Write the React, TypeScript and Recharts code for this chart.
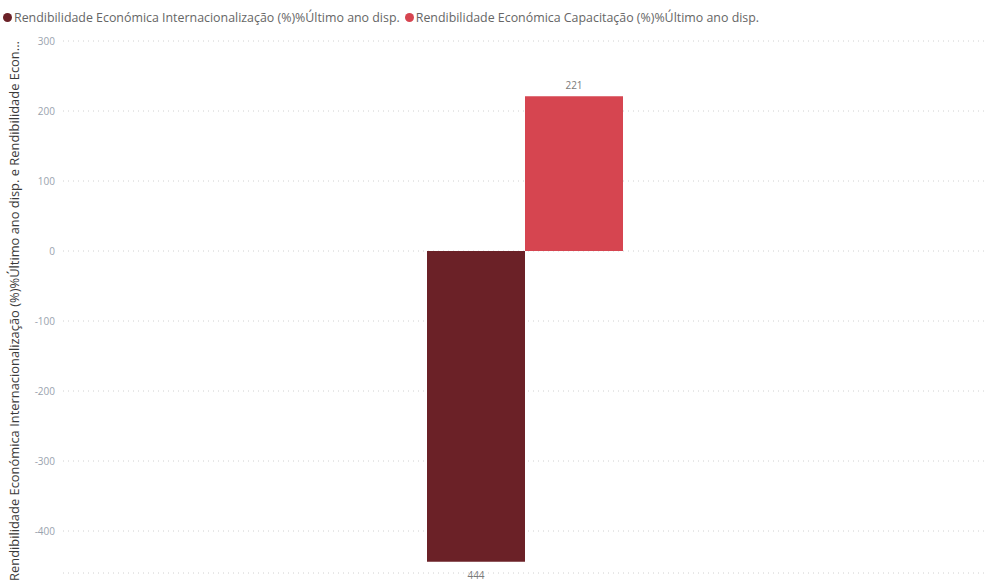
import { Bar, BarChart, CartesianGrid, LabelList, XAxis, YAxis } from "recharts";

const categories = ["Último ano disp."];
const internacionalizacao = [-444];
const capacitacao = [221];
const yTicks = [-400, -300, -200, -100, 0, 100, 200, 300];

const seriesNames = [
  "Rendibilidade Económica Internacionalização (%)%Último ano disp.",
  "Rendibilidade Económica Capacitação (%)%Último ano disp.",
];
const seriesColors = ["#6B2127", "#D64550"];
const axisTitle =
  "Rendibilidade Económica Internacionalização (%)%Último ano disp. e Rendibilidade Econ...";

const data = categories.map((c, i) => ({
  name: c,
  inter: internacionalizacao[i],
  capa: capacitacao[i],
}));

const FONT = "'Segoe UI', 'Open Sans', 'DejaVu Sans', sans-serif";

// value labels sit above positive bars and below negative ones
// eslint-disable-next-line @typescript-eslint/no-explicit-any
const ValueLabel = (props: any) => {
  const { x, y, width, height, value } = props;
  const top = Math.min(y, y + height);
  const bottom = Math.max(y, y + height);
  const cx = x + width / 2;
  const ty = value >= 0 ? top - 7 : bottom + 17;
  return (
    <text
      x={cx}
      y={ty}
      textAnchor="middle"
      fill="#7a7a7a"
      fontSize={10}
      fontFamily={FONT}
    >
      {Math.abs(value)}
    </text>
  );
};

// eslint-disable-next-line @typescript-eslint/no-explicit-any
const AxisTitle = (props: any) => {
  const { viewBox } = props;
  const cy = viewBox.y + viewBox.height / 2 + 4;
  return (
    <text
      x={14}
      y={cy}
      transform={`rotate(-90, 14, ${cy})`}
      textAnchor="middle"
      dominantBaseline="central"
      fill="#3a3a3a"
      fontSize={12.9}
      fontFamily={FONT}
    >
      {axisTitle}
    </text>
  );
};

export default function App() {
  return (
    <div
      style={{
        position: "absolute",
        left: 0,
        top: 0,
        width: 987,
        height: 584,
        background: "#fff",
        fontFamily: FONT,
      }}
    >
      <div
        style={{
          position: "absolute",
          left: 3,
          top: 9,
          display: "flex",
          gap: 5,
          fontSize: 12.4,
          color: "#666",
          whiteSpace: "nowrap",
        }}
      >
        {seriesNames.map((n, i) => (
          <span key={n} style={{ display: "flex", alignItems: "center" }}>
            <span
              style={{
                width: 9,
                height: 9,
                borderRadius: 5,
                background: seriesColors[i],
                marginRight: 2,
              }}
            />
            {n}
          </span>
        ))}
      </div>
      <BarChart
        width={987}
        height={584}
        data={data}
        margin={{ top: 41, right: 0, bottom: 11, left: 2 }}
        barGap={0}
        barSize={98}
      >
        <CartesianGrid
          stroke="#d0d0d0"
          strokeDasharray="1 4"
          vertical={false}
        />
        <XAxis dataKey="name" hide />
        <YAxis
          width={61}
          domain={[-460, 300]}
          ticks={yTicks}
          axisLine={false}
          tickLine={false}
          tick={{ fill: "#9aa3ae", fontSize: 10, fontFamily: FONT }}
          label={<AxisTitle />}
        />
        <Bar
          dataKey="inter"
          fill={seriesColors[0]}
          isAnimationActive={false}
        >
          <LabelList dataKey="inter" content={<ValueLabel />} />
        </Bar>
        <Bar dataKey="capa" fill={seriesColors[1]} isAnimationActive={false}>
          <LabelList dataKey="capa" content={<ValueLabel />} />
        </Bar>
      </BarChart>
    </div>
  );
}
